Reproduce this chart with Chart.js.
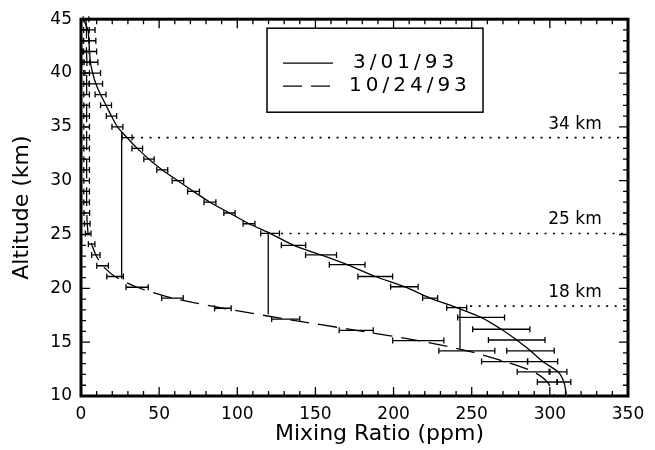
<!DOCTYPE html>
<html>
<head>
<meta charset="utf-8">
<script src="https://cdn.jsdelivr.net/npm/chart.js@4"></script>
<style>
  html, body { margin: 0; padding: 0; background: #fff; }
</style>
</head>
<body>
<canvas id="myChart" width="655" height="450"></canvas>
<script>
// 3/01/93 profile (solid line) : altitude (km), mixing ratio (ppm), error half-width
var solidAlt = [45, 44, 43, 42, 41, 40, 39, 38, 37, 36, 35, 34, 33, 32, 31, 30, 29, 28, 27, 26,
                25.1, 24, 23.1, 22.2, 21.1, 20.15, 19.1, 18.2, 17.3, 16.2, 15.2, 14.2, 13.2, 12.25, 11.3, 10.2];
var solidPpm = [1.5, 4.5, 5, 5.5, 6, 7.5, 9.5, 12.5, 16, 19.5, 23.3, 29.5, 36, 43.5, 52, 62, 72, 82.5, 95, 107.5,
                121, 136, 153.6, 170.3, 188.3, 206.9, 223.4, 240.4, 256, 268.9, 278.8, 287.6, 295.4, 305.2, 309, 310.5];
var solidErr = [0, 4.5, 4.5, 4.5, 4.8, 5, 4.3, 3.5, 3.5, 3.3, 3.5, 3.2, 3.4, 3.3, 3.5, 3.7, 3.8, 3.8, 3.6, 3.8,
                6, 7.8, 9.9, 11.4, 11.1, 8.8, 4.8, 6.4, 15, 18.3, 18.1, 15.2, 9.6, 5.7, 4.4, 0];

// 10/24/93 profile (dashed line)
var dashAlt = [45, 44, 43, 42, 41, 40, 39, 38, 37, 36, 35, 34, 33, 32, 31, 30, 29, 28, 27, 26,
               25.1, 24.1, 23.1, 22.1, 21.1, 20.1, 19.1, 18.15, 17.15, 16.1, 15.15, 14.2, 13.2, 12.25, 11.3, 10];
var dashPpm = [3.2, 3.5, 3.5, 3.5, 3.8, 3.6, 3.6, 3.6, 3.6, 3.6, 3.6, 3.6, 3.6, 3.6, 3.6, 3.6, 3.6, 3.6, 3.7, 4,
               4.6, 6.8, 9.5, 13.8, 21.8, 35.9, 58.5, 90.8, 131, 176.1, 215.8, 246.9, 271, 289.6, 298.4, 303];
var dashErr = [1.8, 1.8, 1.8, 1.8, 1.8, 1.8, 1.8, 1.8, 1.8, 1.8, 1.8, 1.8, 1.8, 1.8, 1.8, 1.8, 1.8, 1.8, 1.8, 1.8,
               1.8, 2.1, 2.7, 3.7, 5.3, 7.1, 6.9, 5.3, 9, 10.9, 16.4, 17.9, 14.7, 10.5, 6.4, 0];

var seriesNames = ['3/01/93', '10/24/93'];

// vertical steps between the two profiles
var stepPpm = [26, 119.8, 242.5];
var stepLow = [20.9, 17.6, 14.4];
var stepHigh = [34.6, 25.1, 18.3];

// dotted reference levels
var refLabels = ['34 km', '25 km', '18 km'];
var refAlt = [34, 25.1, 18.35];
var refStart = [33, 128, 249];

var xMin = 0, xMax = 350, yMin = 10, yMax = 45;
var fam = "'DejaVu Sans', sans-serif";

function pts(xs, ys) {
    return xs.map(function (x, i) { return { x: x, y: ys[i] }; });
}

var datasets = [
    {
        label: seriesNames[0],
        data: pts(solidPpm, solidAlt),
        errors: solidErr,
        borderColor: '#000',
        borderWidth: 1.3,
        pointRadius: 0,
        showLine: true,
        tension: 0.25
    },
    {
        label: seriesNames[1],
        data: pts(dashPpm, dashAlt),
        errors: dashErr,
        borderColor: '#000',
        borderWidth: 1.3,
        borderDash: [19, 9],
        pointRadius: 0,
        showLine: true,
        tension: 0.25
    }
];

stepPpm.forEach(function (x, i) {
    datasets.push({
        data: [{ x: x, y: stepLow[i] }, { x: x, y: stepHigh[i] }],
        borderColor: '#000',
        borderWidth: 1.3,
        pointRadius: 0,
        showLine: true
    });
});

refAlt.forEach(function (y, i) {
    datasets.push({
        data: [{ x: refStart[i], y: y }, { x: xMax, y: y }],
        refLabel: refLabels[i],
        borderColor: '#000',
        borderWidth: 1.6,
        borderDash: [2, 6.5],
        pointRadius: 0,
        showLine: true
    });
});

var profilePlugin = {
    id: 'profile',
    afterDatasetsDraw: function (chart) {
        var ctx = chart.ctx, xs = chart.scales.x, ys = chart.scales.y, a = chart.chartArea;
        ctx.save();
        ctx.strokeStyle = '#000';
        ctx.fillStyle = '#000';

        // horizontal error bars
        ctx.lineWidth = 1.3;
        chart.data.datasets.forEach(function (ds) {
            if (!ds.errors) return;
            ds.data.forEach(function (p, i) {
                var e = ds.errors[i];
                if (!e) return;
                var y = ys.getPixelForValue(p.y);
                var x1 = xs.getPixelForValue(p.x - e), x2 = xs.getPixelForValue(p.x + e);
                ctx.beginPath();
                ctx.moveTo(x1, y); ctx.lineTo(x2, y);
                ctx.moveTo(x1, y - 3); ctx.lineTo(x1, y + 3);
                ctx.moveTo(x2, y - 3); ctx.lineTo(x2, y + 3);
                ctx.stroke();
            });
        });

        // level labels
        ctx.font = '17px ' + fam;
        ctx.textAlign = 'left';
        ctx.textBaseline = 'bottom';
        chart.data.datasets.forEach(function (ds) {
            if (!ds.refLabel) return;
            ctx.fillText(ds.refLabel, xs.getPixelForValue(299), ys.getPixelForValue(ds.data[0].y) - 5);
        });

        // frame
        ctx.lineWidth = 3;
        ctx.strokeRect(a.left, a.top, a.right - a.left, a.bottom - a.top);

        // inward ticks
        ctx.lineWidth = 1.3;
        ctx.beginPath();
        for (var v = yMin; v <= yMax; v++) {
            var len = v % 5 === 0 ? 9 : 5;
            var py = ys.getPixelForValue(v);
            ctx.moveTo(a.left, py); ctx.lineTo(a.left + len, py);
            ctx.moveTo(a.right, py); ctx.lineTo(a.right - len, py);
        }
        for (var u = xMin; u <= xMax; u += 10) {
            var l2 = u % 50 === 0 ? 9 : 5;
            var px = xs.getPixelForValue(u);
            ctx.moveTo(px, a.bottom); ctx.lineTo(px, a.bottom - l2);
            ctx.moveTo(px, a.top); ctx.lineTo(px, a.top + l2);
        }
        ctx.stroke();

        // x axis title (sits right of centre in the original)
        ctx.font = '22px ' + fam;
        ctx.textAlign = 'center';
        ctx.textBaseline = 'middle';
        ctx.fillText('Mixing Ratio (ppm)', (a.left + a.right) / 2 + 25, a.bottom + 38);
        ctx.restore();
    },
    afterDraw: function (chart) {
        var ctx = chart.ctx, a = chart.chartArea;
        var bx = a.left + 186, by = a.top + 9, bw = 216, bh = 84;
        ctx.save();
        ctx.fillStyle = '#fff';
        ctx.fillRect(bx, by, bw, bh);
        ctx.strokeStyle = '#000';
        ctx.lineWidth = 1.5;
        ctx.strokeRect(bx, by, bw, bh);
        ctx.font = '20px ' + fam;
        ctx.fillStyle = '#000';
        ctx.textAlign = 'left';
        ctx.textBaseline = 'middle';
        if ('letterSpacing' in ctx) ctx.letterSpacing = '4px';
        [0, 1].forEach(function (i) {
            var ds = chart.data.datasets[i];
            var ly = by + (i === 0 ? 35 : 58);
            ctx.lineWidth = 1.3;
            ctx.setLineDash(ds.borderDash || []);
            ctx.beginPath();
            ctx.moveTo(bx + 16, ly); ctx.lineTo(bx + 66, ly);
            ctx.stroke();
            ctx.setLineDash([]);
            ctx.fillText(ds.label, bx + (i === 0 ? 86 : 82), ly);
        });
        ctx.restore();
    }
};

var ctx = document.getElementById('myChart').getContext('2d');
var myChart = new Chart(ctx, {
    type: 'scatter',
    data: { datasets: datasets },
    options: {
        responsive: false,
        animation: false,
        layout: { padding: { top: 13, right: 27, left: 0, bottom: 0 } },
        plugins: {
            legend: { display: false },
            tooltip: { enabled: false }
        },
        scales: {
            x: {
                type: 'linear',
                min: xMin,
                max: xMax,
                ticks: { stepSize: 50, color: '#000', font: { family: fam, size: 17 }, padding: 8, maxRotation: 0 },
                grid: { display: false, drawTicks: false },
                border: { display: false },
                afterFit: function (s) { s.height = 54; }
            },
            y: {
                type: 'linear',
                min: yMin,
                max: yMax,
                ticks: { stepSize: 5, color: '#000', font: { family: fam, size: 17 }, padding: 9 },
                grid: { display: false, drawTicks: false },
                border: { display: false },
                title: {
                    display: true,
                    text: 'Altitude (km)',
                    color: '#000',
                    font: { family: fam, size: 22 },
                    padding: { top: 9, bottom: 0 }
                },
                afterFit: function (s) { s.width = 81; }
            }
        }
    },
    plugins: [profilePlugin]
});
</script>
</body>
</html>
